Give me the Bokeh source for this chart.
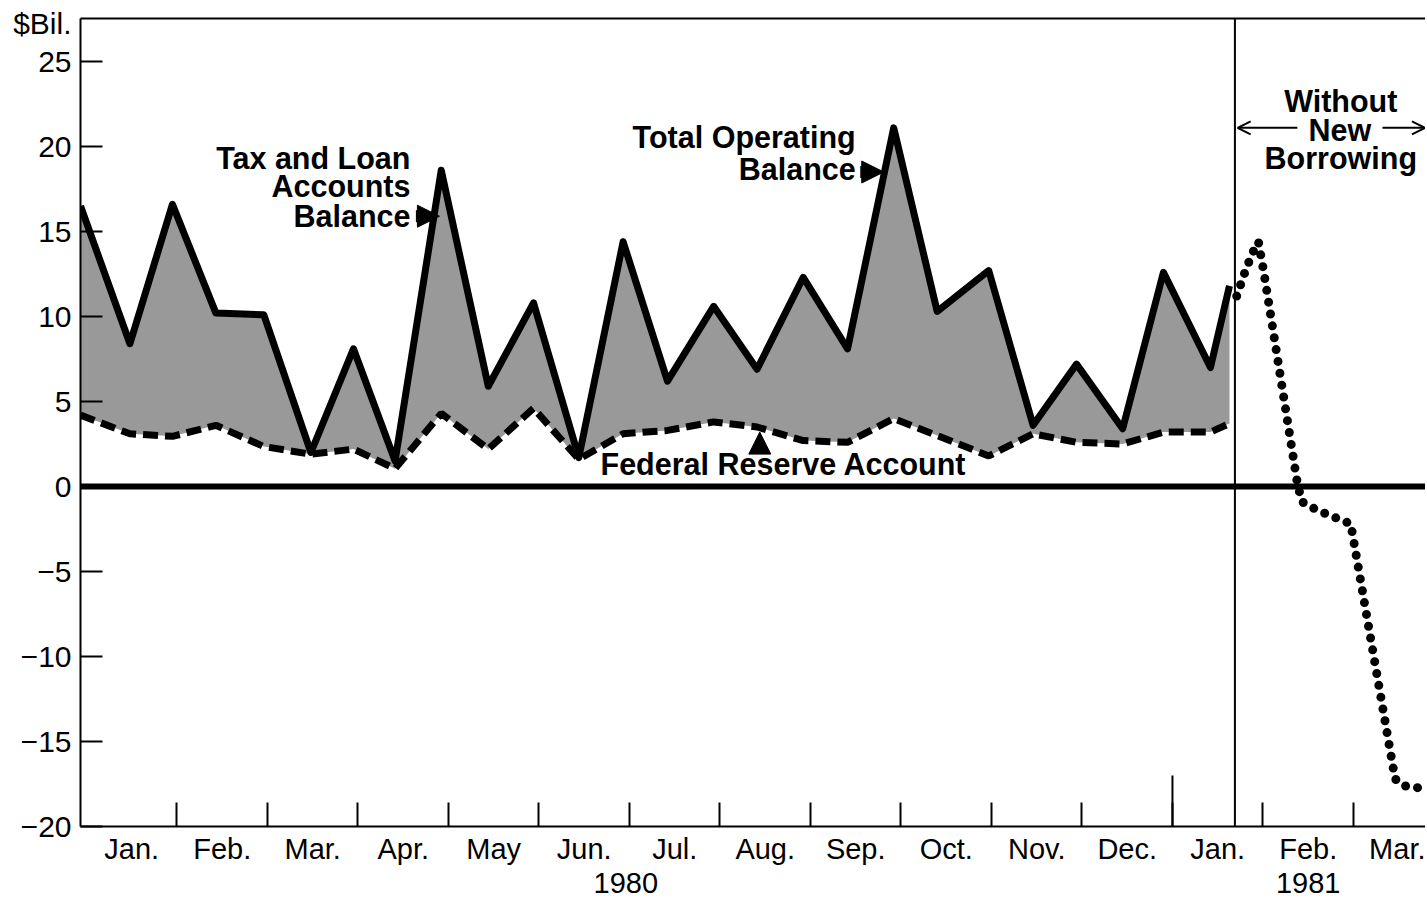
from bokeh.plotting import figure
from bokeh.models import (Range1d, FixedTicker, LinearAxis, Span, Label, Arrow,
                          NormalHead, OpenHead)
from bokeh.embed import file_html
from bokeh.resources import INLINE

# ---------------- data (x in months since Jan 1, 1980) ----------------
period = [-0.066, 0.48, 0.95, 1.43, 1.96, 2.48, 2.95, 3.41, 3.92, 4.44, 4.94,
          5.44, 5.93, 6.42, 6.93, 7.41, 7.92, 8.41, 8.92, 9.40, 9.97, 10.46,
          10.94, 11.45, 11.90, 12.42, 12.63]
total_operating = [16.5, 8.4, 16.6, 10.2, 10.1, 2.0, 8.1, 1.5, 18.6, 5.9, 10.8,
                   1.7, 14.4, 6.2, 10.6, 6.9, 12.3, 8.1, 21.1, 10.3, 12.7, 3.6,
                   7.2, 3.4, 12.6, 7.0, 11.8]
federal_reserve = [4.2, 3.1, 2.95, 3.6, 2.35, 1.9, 2.2, 1.05, 4.3, 2.2, 4.6,
                   1.6, 3.1, 3.3, 3.8, 3.5, 2.7, 2.6, 4.0, 3.0, 1.8, 3.1,
                   2.6, 2.5, 3.2, 3.2, 3.7]

proj_period = [12.71, 12.80, 12.88, 12.95, 13.01, 13.38, 13.43, 13.60, 13.97,
               14.46, 14.55, 14.82]
proj_balance = [11.2, 12.6, 13.7, 14.4, 12.6, 0.2, -0.9, -1.4, -2.2,
                -17.2, -17.6, -17.8]

month_labels = ["Jan.", "Feb.", "Mar.", "Apr.", "May", "Jun.", "Jul.", "Aug.",
                "Sep.", "Oct.", "Nov.", "Dec.", "Jan.", "Feb.", "Mar."]
month_bounds = list(range(1, 15))
year_labels = ["1980", "1981"]
year_label_pos = [5.96, 13.50]
year_1981_start = 12
projection_start = 12.69
y_ticks = [-20, -15, -10, -5, 0, 5, 10, 15, 20, 25]
unit_label = "$Bil."
unit_label_pos = 27.24

FONT = "Liberation Sans"
Y_MIN, Y_MAX = -20, 27.53

p = figure(width=1425, height=902, output_backend="svg", toolbar_location=None,
           x_range=Range1d(-0.066, 14.796), y_range=Range1d(Y_MIN, Y_MAX),
           x_axis_type=None, y_axis_type=None,
           min_border_left=80, min_border_right=0, min_border_top=18,
           min_border_bottom=76)
p.outline_line_color = None
p.background_fill_color = "white"
p.border_fill_color = "white"

# ---------------- axes ----------------
def fmt(t):
    return str(t) if t >= 0 else "\u2212" + str(-t)

y_overrides = {t: fmt(t) for t in y_ticks}
y_overrides[unit_label_pos] = unit_label
yaxis = LinearAxis(
    ticker=FixedTicker(ticks=y_ticks + [unit_label_pos], minor_ticks=y_ticks),
    major_label_overrides=y_overrides,
    major_tick_in=0, major_tick_out=0, major_tick_line_color=None,
    minor_tick_in=22, minor_tick_out=0, minor_tick_line_width=2,
    minor_tick_line_color="black", axis_line_width=2,
    major_label_text_font=FONT, major_label_text_font_size="30px",
    major_label_text_color="black", major_label_standoff=9)
p.add_layout(yaxis, "left")

label_pos = [i + 0.5 for i in range(len(month_labels))]
xaxis = LinearAxis(
    ticker=FixedTicker(ticks=label_pos, minor_ticks=month_bounds),
    major_label_overrides={pos: lbl for pos, lbl in zip(label_pos, month_labels)},
    major_tick_in=0, major_tick_out=0, major_tick_line_color=None,
    minor_tick_in=24, minor_tick_out=0, minor_tick_line_width=2,
    minor_tick_line_color="black", axis_line_width=2,
    major_label_text_font=FONT, major_label_text_font_size="29px",
    major_label_text_color="black", major_label_standoff=6)
p.add_layout(xaxis, "below")

year_axis = LinearAxis(
    ticker=FixedTicker(ticks=year_label_pos),
    major_label_overrides={pos: lbl for pos, lbl in zip(year_label_pos, year_labels)},
    major_tick_in=0, major_tick_out=0, major_tick_line_color=None,
    minor_tick_line_color=None, axis_line_color=None,
    major_label_text_font=FONT, major_label_text_font_size="29px",
    major_label_text_color="black", major_label_standoff=5)
p.add_layout(year_axis, "below")

top_axis = LinearAxis(ticker=FixedTicker(ticks=[]), major_tick_line_color=None,
                      minor_tick_line_color=None, axis_line_width=2,
                      major_label_text_font_size="0px")
p.add_layout(top_axis, "above")

# ---------------- data marks ----------------
p.varea(x=period, y1=federal_reserve, y2=total_operating, fill_color="#999999")
p.line(period, federal_reserve, line_width=7, line_dash="15 7", color="black")
p.line(period, total_operating, line_width=7, color="black", line_join="round")

p.add_layout(Span(location=0, dimension="width", line_width=6, line_color="black"))
p.add_layout(Span(location=projection_start, dimension="height", line_width=2,
                  line_color="black"))
p.segment(x0=[year_1981_start], y0=[Y_MIN], x1=[year_1981_start], y1=[Y_MIN + 3],
          line_width=2, color="black")

p.line(proj_period, proj_balance, line_width=9, line_dash="0 12",
       line_cap="round", color="black")

# ---------------- annotations ----------------
def lab(x, y, text, align="center", size="30.5px"):
    p.add_layout(Label(x=x, y=y, text=text, text_font=FONT,
                       text_font_style="bold", text_font_size=size,
                       text_align=align, text_baseline="middle",
                       text_color="black"))

lab(3.58, 19.35, "Tax and Loan", "right")
lab(3.58, 17.65, "Accounts", "right")
lab(3.58, 15.94, "Balance", "right")
lab(8.50, 20.53, "Total Operating", "right")
lab(8.50, 18.70, "Balance", "right")
lab(5.68, 1.35, "Federal Reserve Account", "left")
lab(13.86, 22.7, "Without")
lab(13.85, 21.0, "New")
lab(13.86, 19.3, "Borrowing")

# pointer arrows
for xs, ys, xe, ye in [(3.64, 15.9, 3.90, 15.9), (8.55, 18.5, 8.81, 18.5),
                       (7.44, 2.2, 7.44, 3.2)]:
    p.add_layout(Arrow(end=NormalHead(size=22, fill_color="black", line_color="black"),
                       x_start=xs, y_start=ys, x_end=xe, y_end=ye,
                       line_width=12, line_color="black"))
for xs, xe in [(13.38, 12.72), (14.32, 14.79)]:
    p.add_layout(Arrow(end=OpenHead(size=13, line_width=2, line_color="black"),
                       x_start=xs, y_start=21.1, x_end=xe, y_end=21.1,
                       line_width=2, line_color="black"))

open("out.html", "w").write(file_html(p, INLINE))
